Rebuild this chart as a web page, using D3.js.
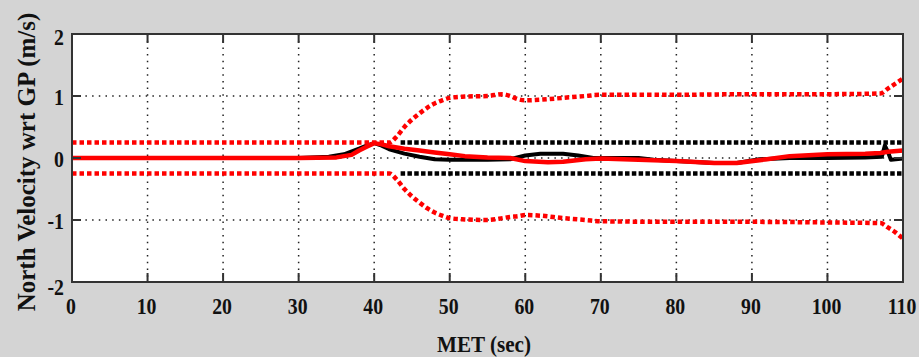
<!DOCTYPE html>
<html>
<head>
<meta charset="utf-8">
<script src="https://cdn.jsdelivr.net/npm/d3@7"></script>
<style>
  body { margin: 0; background: #d4d4d4; }
  svg { display: block; }
  text { font-family: "Liberation Serif", "DejaVu Serif", serif; font-weight: bold; fill: #111; }
</style>
</head>
<body>
<div id="chart"></div>
<script>
// tick values
const xTicks = [0, 10, 20, 30, 40, 50, 60, 70, 80, 90, 100, 110];
const yTicks = [-2, -1, 0, 1, 2];

// black solid (measured velocity)
const metBlack = [0, 10, 20, 30, 34, 36, 38, 39, 40, 41, 42, 44, 46, 48, 50, 55, 58, 60, 62, 65, 67, 69, 72, 75, 77, 80, 85, 88, 91, 95, 100, 105, 107.2, 107.6, 108, 108.4, 110];
const velBlack = [0, 0, 0, 0, 0.02, 0.06, 0.15, 0.2, 0.24, 0.2, 0.14, 0.07, 0.02, -0.02, -0.03, -0.03, -0.02, 0.04, 0.07, 0.07, 0.04, 0.0, 0.0, 0.0, -0.03, -0.05, -0.08, -0.08, -0.02, 0.0, 0.0, 0.01, 0.02, 0.2, 0.1, -0.03, -0.01];

// red solid
const metRed = [0, 10, 20, 30, 35, 37, 38, 39, 40, 41, 42, 44, 46, 48, 50, 52, 55, 58, 60, 63, 65, 68, 70, 75, 80, 85, 88, 92, 95, 100, 105, 107, 108, 110];
const velRed = [0, 0, 0, 0, 0.01, 0.05, 0.12, 0.18, 0.24, 0.22, 0.19, 0.15, 0.12, 0.09, 0.06, 0.03, 0.01, 0.0, -0.05, -0.07, -0.06, -0.02, -0.01, -0.03, -0.05, -0.08, -0.08, -0.02, 0.03, 0.06, 0.07, 0.08, 0.1, 0.12];

// red dotted envelope
const metEnv = [0, 42, 43, 44, 45, 46, 47, 48, 49, 50, 52, 55, 57, 58, 59, 60, 62, 65, 68, 70, 80, 90, 100, 107, 108, 109, 110];
const envUpper = [0.25, 0.25, 0.35, 0.5, 0.62, 0.72, 0.81, 0.88, 0.93, 0.97, 0.99, 1.0, 1.03, 1.0, 0.95, 0.93, 0.94, 0.97, 1.0, 1.02, 1.02, 1.03, 1.03, 1.04, 1.12, 1.2, 1.28];
const envLower = [-0.25, -0.25, -0.35, -0.5, -0.62, -0.72, -0.81, -0.88, -0.93, -0.97, -0.99, -1.0, -0.97, -0.95, -0.94, -0.92, -0.93, -0.97, -1.0, -1.02, -1.03, -1.03, -1.04, -1.05, -1.12, -1.2, -1.3];

// black dotted band
const metBand = [43.5, 110];
const bandUpper = [0.25, 0.25];
const bandLower = [-0.25, -0.25];

const width = 919, height = 357;
const margin = { top: 34, right: 16, bottom: 75, left: 72 };
const innerW = width - margin.left - margin.right;
const innerH = height - margin.top - margin.bottom;

const svg = d3.select("#chart").append("svg")
  .attr("width", width)
  .attr("height", height);

svg.append("rect").attr("width", width).attr("height", height).attr("fill", "#d4d4d4");

const g = svg.append("g").attr("transform", `translate(${margin.left},${margin.top})`);

const x = d3.scaleLinear().domain([0, 110]).range([0, innerW]);
const y = d3.scaleLinear().domain([-2, 2]).range([innerH, 0]);

g.append("rect").attr("width", innerW).attr("height", innerH).attr("fill", "#fff");

// dotted grid
g.selectAll(".gx").data(xTicks.slice(1, -1)).enter().append("line")
  .attr("x1", d => x(d)).attr("x2", d => x(d))
  .attr("y1", 0).attr("y2", innerH)
  .attr("stroke", "#222").attr("stroke-width", 1.5)
  .attr("stroke-dasharray", "1.5,5.2");
g.selectAll(".gy").data(yTicks.slice(1, -1)).enter().append("line")
  .attr("x1", 0).attr("x2", innerW)
  .attr("y1", d => y(d)).attr("y2", d => y(d))
  .attr("stroke", "#222").attr("stroke-width", 1.5)
  .attr("stroke-dasharray", "1.5,5.2");

const line = d3.line().x(d => x(d[0])).y(d => y(d[1]));
const smooth = d3.line().x(d => x(d[0])).y(d => y(d[1])).curve(d3.curveMonotoneX);

const plotArea = g.append("g");

// black dotted +/- band
[bandUpper, bandLower].forEach(vals => {
  plotArea.append("path")
    .datum(d3.zip(metBand, vals))
    .attr("d", line)
    .attr("fill", "none")
    .attr("stroke", "#000")
    .attr("stroke-width", 4.5)
    .attr("stroke-dasharray", "4.5,2.3");
});

// black solid
plotArea.append("path")
  .datum(d3.zip(metBlack, velBlack))
  .attr("d", line)
  .attr("fill", "none")
  .attr("stroke", "#000")
  .attr("stroke-width", 4)
  .attr("stroke-linejoin", "round");

// red solid
plotArea.append("path")
  .datum(d3.zip(metRed, velRed))
  .attr("d", line)
  .attr("fill", "none")
  .attr("stroke", "#ff0000")
  .attr("stroke-width", 4.5)
  .attr("stroke-linejoin", "round");

// red dotted envelope
[envUpper, envLower].forEach(vals => {
  plotArea.append("path")
    .datum(d3.zip(metEnv, vals))
    .attr("d", smooth)
    .attr("fill", "none")
    .attr("stroke", "#ff0000")
    .attr("stroke-width", 4.5)
    .attr("stroke-dasharray", "4.5,3");
});

// frame
g.append("rect").attr("width", innerW).attr("height", innerH)
  .attr("fill", "none").attr("stroke", "#333").attr("stroke-width", 2);

// inner ticks on all four sides
const tickLen = 9;
xTicks.slice(1, -1).forEach(t => {
  g.append("line").attr("x1", x(t)).attr("x2", x(t)).attr("y1", innerH).attr("y2", innerH - tickLen)
    .attr("stroke", "#333").attr("stroke-width", 2);
  g.append("line").attr("x1", x(t)).attr("x2", x(t)).attr("y1", 0).attr("y2", tickLen)
    .attr("stroke", "#333").attr("stroke-width", 2);
});
yTicks.slice(1, -1).forEach(t => {
  g.append("line").attr("x1", 0).attr("x2", tickLen).attr("y1", y(t)).attr("y2", y(t))
    .attr("stroke", "#333").attr("stroke-width", 2);
  g.append("line").attr("x1", innerW).attr("x2", innerW - tickLen).attr("y1", y(t)).attr("y2", y(t))
    .attr("stroke", "#333").attr("stroke-width", 2);
});

// tick labels (slightly condensed, like the original bitmap font)
g.selectAll(".xl").data(xTicks).enter().append("text")
  .attr("transform", d => `translate(${x(d) - 1},${innerH + 32}) scale(0.86,1)`)
  .attr("text-anchor", "middle")
  .attr("font-size", 23)
  .text(d => d);

g.selectAll(".yl").data(yTicks).enter().append("text")
  .attr("transform", d => `translate(-8,${y(d) + 9 + (d === -2 ? 4 : d === 2 ? 2 : 0)}) scale(0.86,1)`)
  .attr("text-anchor", "end")
  .attr("font-size", 23)
  .text(d => (d < 0 ? "-" + Math.abs(d) : d));

// axis titles
svg.append("text")
  .attr("transform", "translate(484,352) scale(0.88,1)")
  .attr("text-anchor", "middle")
  .attr("font-size", 24)
  .text("MET (sec)");

svg.append("text")
  .attr("transform", "translate(35,162) rotate(-90)")
  .attr("text-anchor", "middle")
  .attr("font-size", 25)
  .text("North Velocity wrt GP (m/s)");
</script>
</body>
</html>
